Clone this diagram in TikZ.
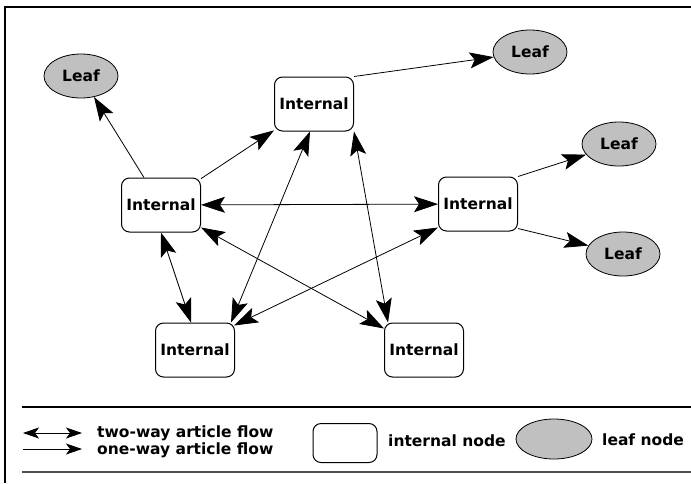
\documentclass[tikz,border=0pt]{standalone}
\usepackage{fontspec}
\setmainfont{DejaVu Sans}
\usepackage{xcolor}
\usepackage{tikz}
\usetikzlibrary{arrows.meta, shapes.geometric}
\definecolor{leafgray}{RGB}{192,192,192}

\begin{document}
\begin{tikzpicture}[x=1pt, y=-1pt,
  font=\fontsize{15.5}{16}\selectfont\bfseries,
  internal/.style={draw, rounded corners=8pt, fill=white, line width=1pt, minimum width=79pt, minimum height=54pt, inner sep=0pt},
  leaf/.style={draw, ellipse, fill=leafgray, line width=0.8pt, minimum width=74pt, minimum height=44pt, inner sep=0pt},
  oneway/.style={line width=0.8pt, -{Stealth[length=24pt, width=16pt, inset=5pt]}},
  twoway/.style={line width=0.8pt, {Stealth[length=24pt, width=16pt, inset=5pt]}-{Stealth[length=24pt, width=16pt, inset=5pt]}},
  keytext/.style={anchor=west, inner sep=0pt}]
\useasboundingbox (0,0) rectangle (691,483);
\fill[white] (0,0) rectangle (691,483);
\draw[line width=1.5pt] (5,483) -- (5,7) -- (691,7);

\node[leaf] (leafA) at (81,76) {Leaf};
\node[leaf] (leafB) at (530,52) {Leaf};
\node[leaf] (leafC) at (619,144) {Leaf};
\node[leaf] (leafD) at (623,254) {Leaf};
\node[internal] (intTop) at (314,104) {Internal};
\node[internal] (intLeft) at (161,205) {Internal};
\node[internal] (intRight) at (478,204) {Internal};
\node[internal] (intBL) at (195,350) {Internal};
\node[internal] (intBR) at (424,350) {Internal};

\draw[oneway] (intLeft) -- (leafA);
\draw[oneway] (intLeft) -- (intTop);
\draw[oneway] (intTop.north east) -- (leafB);
\draw[twoway] (intLeft) -- (intRight);
\draw[oneway] (intRight.north east) -- (leafC);
\draw[oneway] ([yshift=3pt]intRight.south east) -- (leafD);
\draw[twoway] (intLeft.south) -- ([xshift=-4pt]intBL.north);
\draw[twoway] ([xshift=-4pt]intTop.south) -- ([xshift=-4pt]intBL.north east);
\draw[twoway] (intTop.south east) -- ([xshift=4pt]intBR.north west);
\draw[twoway] ([yshift=5pt]intLeft.south east) -- ([yshift=-6pt]intBR.north west);
\draw[twoway] ([yshift=4pt]intRight.south west) -- ([xshift=-1pt, yshift=-3pt]intBL.north east);

\draw[line width=1.2pt] (22,407) -- (691,407);
\draw[line width=1.8pt, black!70] (22,472) -- (691,472);

\coordinate (twoS) at (23,433);
\coordinate (twoE) at (82,433);
\coordinate (oneS) at (23,449);
\coordinate (oneE) at (82,449);
\draw[line width=0.8pt, {Stealth[length=16pt, width=11pt, inset=4pt]}-{Stealth[length=16pt, width=11pt, inset=4pt]}] (twoS) -- (twoE);
\draw[line width=0.8pt, -{Stealth[length=16pt, width=11pt, inset=4pt]}] (oneS) -- (oneE);
\node[keytext] (twoText) at (97,433) {two-way article flow};
\node[keytext] (oneText) at (97,450) {one-way article flow};
\node[internal, minimum width=64pt, minimum height=39pt] (keyInternal) at (345,443) {};
\node[keytext] (keyInternalText) at (388,441) {internal node};
\node[leaf, minimum width=76pt, minimum height=40pt] (keyLeaf) at (554,439) {};
\node[keytext] (keyLeafText) at (602,440) {leaf node};
\end{tikzpicture}
\end{document}
